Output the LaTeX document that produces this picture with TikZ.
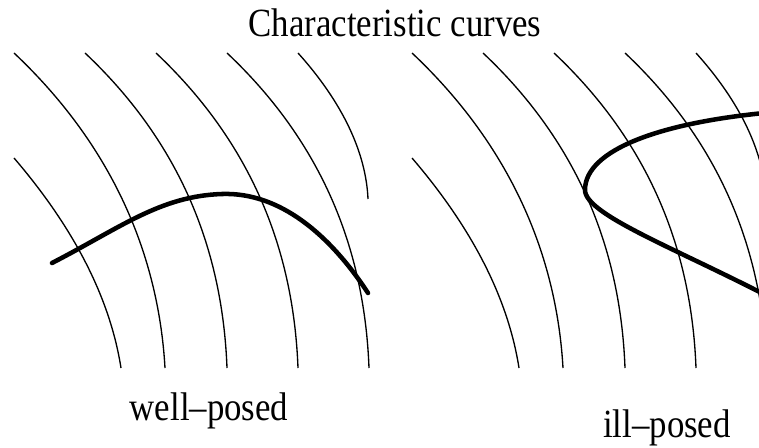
\documentclass[tikz,border=0pt]{standalone}
\usepackage{fontspec}
\usepackage{graphicx}
\setmainfont{Liberation Serif}
\begin{document}
\begin{tikzpicture}[x=0.75pt,y=-0.75pt,
  charline/.style={line width=1pt, black},
  thickcurve/.style={line width=3.4pt, line cap=round, black},
  lab/.style={anchor=base, font=\fontsize{30}{36}\selectfont, inner sep=0pt}]
\useasboundingbox (0,0) rectangle (759,448);
\begin{scope}
\clip (0,0) rectangle (759,448);
\foreach \dx in {0,398} {
  \begin{scope}[shift={(\dx,0)}]
    % first long curve
    \draw[charline] (14,53) .. controls (118,151) and (159,263) .. (165,368);
    % generic long curves
    \foreach \x in {85,156,227} {
      \begin{scope}[shift={(\x,53)}]
        \draw[charline] (0,0) .. controls (104,98) and (138,210) .. (142,315);
      \end{scope}
    }
    % lower curve
    \draw[charline] (14,158) .. controls (74,228) and (110,298) .. (121,368);
    % short curve
    \draw[charline] (298,53) .. controls (343,103) and (366,153) .. (368,199);
  \end{scope}
}
% well-posed initial curve
\draw[thickcurve] (52,263) .. controls (120,228) and (160,196) .. (222,194)
                  .. controls (280,192) and (330,235) .. (368,293);
% ill-posed initial curve
\draw[thickcurve] (775,112) .. controls (660,122) and (585,150) .. (585,190)
                  .. controls (585,215) and (680,250) .. (775,300);
\end{scope}
\node[lab] (title) at (395,37) {\scalebox{0.87}[1]{Characteristic curves}};
\node[lab] (well) at (209,420) {\scalebox{0.87}[1]{well--posed}};
\node[lab] (ill) at (667,437) {\scalebox{0.87}[1]{ill--posed}};
\end{tikzpicture}
\end{document}
